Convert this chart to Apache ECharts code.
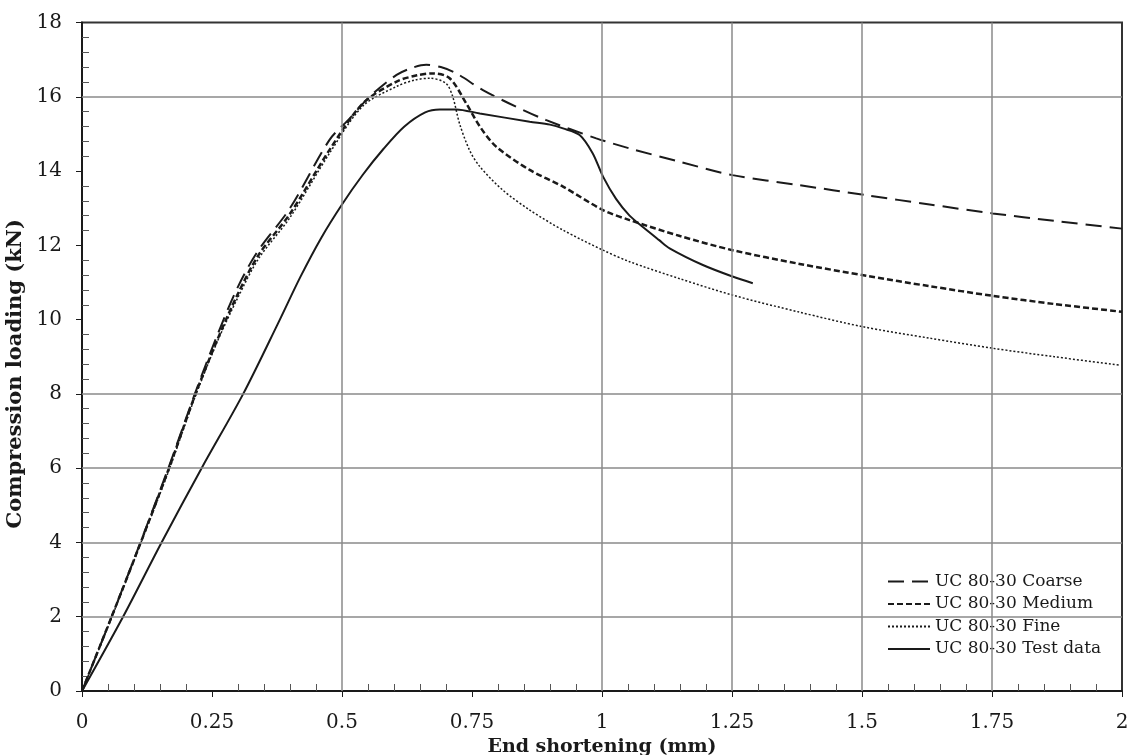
<!DOCTYPE html>
<html>
<head>
<meta charset="utf-8">
<script src="https://cdn.jsdelivr.net/npm/echarts@6/dist/echarts.min.js"></script>
<style>
html,body{margin:0;padding:0;background:#fff;}
#chart{width:1132px;height:755px;}
</style>
</head>
<body>
<div id="chart"></div>
<script>
// ---- data ----
const seriesNames = ['UC 80-30 Coarse', 'UC 80-30 Medium', 'UC 80-30 Fine', 'UC 80-30 Test data'];

const coarseX = [0, 0.057, 0.108, 0.166, 0.217, 0.259, 0.297, 0.336, 0.4, 0.476, 0.515, 0.553, 0.605, 0.635, 0.662, 0.69, 0.72, 0.771, 0.835, 0.893, 0.989, 1.053, 1.15, 1.251, 1.38, 1.508, 1.63, 1.751, 1.87, 2.0];
const coarseY = [0, 2, 3.84, 6, 8, 9.54, 10.8, 11.8, 13.0, 14.84, 15.42, 16.0, 16.59, 16.78, 16.86, 16.8, 16.63, 16.18, 15.73, 15.37, 14.88, 14.61, 14.25, 13.89, 13.62, 13.35, 13.1, 12.86, 12.66, 12.45];

const mediumX = [0, 0.057, 0.108, 0.166, 0.217, 0.26, 0.3, 0.34, 0.4, 0.476, 0.54, 0.605, 0.645, 0.675, 0.707, 0.739, 0.765, 0.797, 0.861, 0.925, 1.002, 1.053, 1.15, 1.251, 1.38, 1.508, 1.63, 1.751, 1.87, 2.0];
const mediumY = [0, 2, 3.82, 5.95, 7.95, 9.45, 10.7, 11.75, 12.85, 14.57, 15.82, 16.41, 16.58, 16.63, 16.5, 15.82, 15.2, 14.65, 14.03, 13.58, 12.95, 12.68, 12.25, 11.87, 11.5, 11.18, 10.9, 10.64, 10.42, 10.21];

const fineX = [0, 0.057, 0.108, 0.166, 0.217, 0.26, 0.3, 0.34, 0.4, 0.476, 0.54, 0.605, 0.64, 0.669, 0.70, 0.713, 0.726, 0.745, 0.765, 0.809, 0.861, 0.925, 1.002, 1.053, 1.15, 1.251, 1.38, 1.501, 1.63, 1.751, 1.87, 1.994];
const fineY = [0, 1.98, 3.8, 5.9, 7.9, 9.4, 10.6, 11.65, 12.75, 14.48, 15.75, 16.28, 16.45, 16.5, 16.36, 16.0, 15.28, 14.57, 14.12, 13.49, 12.95, 12.41, 11.87, 11.56, 11.1, 10.66, 10.2, 9.81, 9.5, 9.23, 9.0, 8.78];

const testX = [0, 0.079, 0.153, 0.23, 0.31, 0.377, 0.42, 0.46, 0.50, 0.54, 0.58, 0.62, 0.66, 0.688, 0.72, 0.765, 0.861, 0.9, 0.925, 0.957, 0.982, 1.002, 1.027, 1.053, 1.078, 1.11, 1.13, 1.194, 1.251, 1.29];
const testY = [0, 2, 4, 6, 8, 9.9, 11.15, 12.2, 13.1, 13.9, 14.6, 15.2, 15.58, 15.66, 15.66, 15.55, 15.33, 15.25, 15.15, 14.97, 14.48, 13.85, 13.25, 12.8, 12.5, 12.14, 11.92, 11.47, 11.16, 10.98];

// gridlines present in the reference
const gridLinesX = [0.5, 1, 1.25, 1.5, 1.75];
const gridLinesY = [2, 4, 6, 8, 16];

const xAxisTitle = 'End shortening (mm)';
const yAxisTitle = 'Compression loading (kN)';

// ---- build ----
const zip = (xs, ys) => xs.map((x, i) => [x, ys[i]]);
const FONT = '"DejaVu Serif", "Liberation Serif", serif';
const INK = '#1a1a1a';

const chart = echarts.init(document.getElementById('chart'), null, {renderer: 'canvas'});

const markLines = {
  silent: true,
  symbol: 'none',
  animation: false,
  label: {show: false},
  lineStyle: {color: '#8a8a8a', width: 1.5, type: 'solid'},
  emphasis: {disabled: true},
  data: gridLinesX.map(v => ({xAxis: v})).concat(gridLinesY.map(v => ({yAxis: v})))
};

const baseAxisCommon = {
  type: 'value',
  splitLine: {show: false},
  axisLine: {show: true, onZero: false, lineStyle: {color: INK, width: 2}},
  axisTick: {show: false, inside: true},
  minorTick: {show: true, splitNumber: 5, length: 7, lineStyle: {color: '#555', width: 1}},
  axisLabel: {color: INK, fontFamily: FONT, fontSize: 20},
  nameTextStyle: {color: INK, fontFamily: FONT, fontSize: 19, fontWeight: 'bold'}
};

const option = {
  backgroundColor: '#fff',
  animation: false,
  grid: {left: 82, right: 10, top: 22.5, bottom: 64, show: true, borderColor: '#333', borderWidth: 2,
         containLabel: false, outerBoundsMode: 'none'},
  xAxis: [
    Object.assign({}, baseAxisCommon, {
      min: 0, max: 2, interval: 0.25,
      axisLabel: Object.assign({}, baseAxisCommon.axisLabel, {margin: 22}),
      name: xAxisTitle, nameLocation: 'middle', nameGap: 45
    }),
    {type: 'value', min: 0, max: 2, interval: 0.25, position: 'bottom',
     axisLine: {show: false}, axisLabel: {show: false}, splitLine: {show: false},
     axisTick: {show: true, inside: false, length: 6, lineStyle: {color: INK, width: 1}}}
  ],
  yAxis: [
    Object.assign({}, baseAxisCommon, {
      min: 0, max: 18, interval: 2,
      axisLabel: Object.assign({}, baseAxisCommon.axisLabel, {margin: 20}),
      name: yAxisTitle, nameLocation: 'middle', nameGap: 37,
      nameTextStyle: Object.assign({}, baseAxisCommon.nameTextStyle, {fontSize: 21, padding: [0, 34, 0, 0]})
    }),
    {type: 'value', min: 0, max: 18, interval: 2, position: 'left',
     axisLine: {show: false}, axisLabel: {show: false}, splitLine: {show: false},
     axisTick: {show: true, inside: false, length: 6, lineStyle: {color: INK, width: 1}}}
  ],
  legend: {
    orient: 'vertical',
    left: 882, top: 568,
    itemWidth: 42, itemHeight: 10, itemGap: 5.5,
    itemStyle: {opacity: 0},
    textStyle: {color: INK, fontFamily: FONT, fontSize: 17},
    data: seriesNames
  },
  series: [
    {name: seriesNames[0], type: 'line', data: zip(coarseX, coarseY), symbol: 'none', smooth: 0.3,
     lineStyle: {color: INK, width: 2, type: [16, 8]}, itemStyle: {color: INK}, markLine: markLines, z: 3},
    {name: seriesNames[1], type: 'line', data: zip(mediumX, mediumY), symbol: 'none', smooth: 0.3,
     lineStyle: {color: INK, width: 2.5, type: [6, 3]}, itemStyle: {color: INK}, z: 3},
    {name: seriesNames[2], type: 'line', data: zip(fineX, fineY), symbol: 'none', smooth: 0.3,
     lineStyle: {color: INK, width: 1.5, type: [2, 2]}, itemStyle: {color: INK}, z: 3},
    {name: seriesNames[3], type: 'line', data: zip(testX, testY), symbol: 'none', smooth: 0.3,
     lineStyle: {color: INK, width: 2, type: 'solid'}, itemStyle: {color: INK}, z: 3}
  ]
};
chart.setOption(option);
</script>
</body>
</html>
